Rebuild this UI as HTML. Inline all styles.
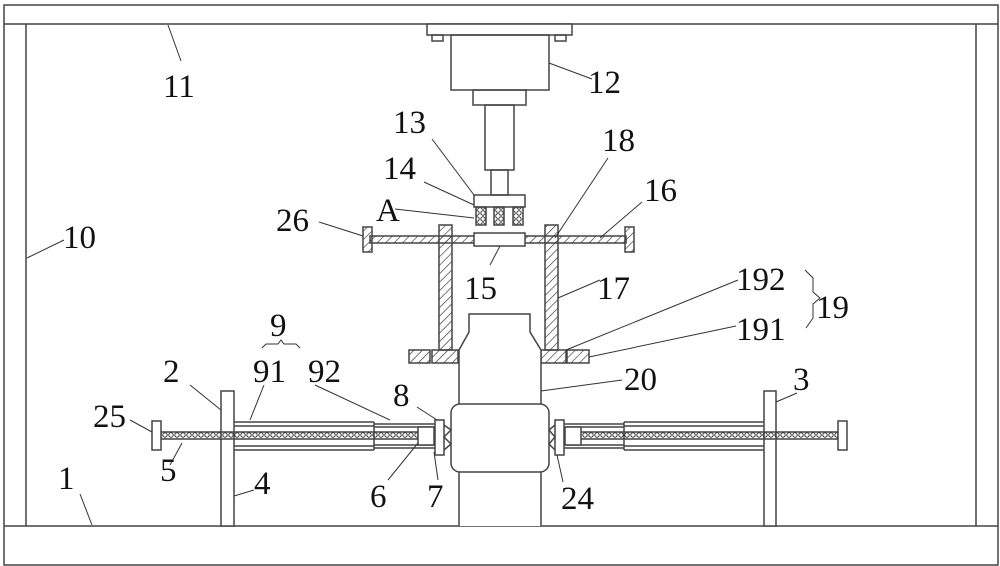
<!DOCTYPE html>
<html><head><meta charset="utf-8"><style>
html,body{margin:0;padding:0;background:#fff;}
svg{display:block;}
text{font-family:"Liberation Serif",serif;font-size:33px;fill:#111;}
</style></head><body>
<svg width="1000" height="566" viewBox="0 0 1000 566" xmlns="http://www.w3.org/2000/svg">
<defs>
<pattern id="h" width="6" height="6" patternUnits="userSpaceOnUse" patternTransform="rotate(45)">
<line x1="0" y1="0" x2="0" y2="6" stroke="#333" stroke-width="1.3"/>
</pattern>
<pattern id="s" width="6" height="6" patternUnits="userSpaceOnUse">
<circle cx="3" cy="3" r="2.2" fill="none" stroke="#333" stroke-width="1"/>
</pattern>
</defs>
<g fill="none" stroke="#444" stroke-width="1.5">
<rect x="4" y="5" width="994" height="560"/>
<line x1="4" y1="24" x2="998" y2="24"/>
<line x1="26" y1="24" x2="26" y2="526"/>
<line x1="976" y1="24" x2="976" y2="526"/>
<line x1="4" y1="526" x2="998" y2="526"/>
<rect x="427" y="24" width="145" height="11" fill="#fff"/>
<rect x="432" y="35" width="11" height="6"/>
<rect x="555" y="35" width="11" height="6"/>
<rect x="451" y="35" width="98" height="55"/>
<rect x="473" y="90" width="53" height="15"/>
<rect x="485" y="105" width="29" height="65"/>
<rect x="491" y="170" width="17" height="25"/>
<rect x="474" y="195" width="51" height="12"/>
<rect x="476" y="207" width="10" height="18" fill="url(#s)"/>
<rect x="494" y="207" width="10" height="18" fill="url(#s)"/>
<rect x="513" y="207" width="10" height="18" fill="url(#s)"/>
<rect x="370" y="236" width="256" height="7" fill="url(#h)"/>
<rect x="363" y="227" width="9" height="25" fill="url(#h)"/>
<rect x="625" y="227" width="9" height="25" fill="url(#h)"/>
<rect x="474" y="233" width="51" height="13" fill="#fff"/>
<rect x="439" y="225" width="13" height="125" fill="url(#h)"/>
<rect x="545" y="225" width="13" height="125" fill="url(#h)"/>
<rect x="409" y="350" width="21" height="13" fill="url(#h)"/>
<rect x="432" y="350" width="26" height="13" fill="url(#h)"/>
<rect x="541" y="350" width="25" height="13" fill="url(#h)"/>
<rect x="567" y="350" width="22" height="13" fill="url(#h)"/>
<path d="M459 526 V350 L469 332 V314 H530 V332 L541 350 V526" fill="#fff"/>
<rect x="451" y="404" width="98" height="68" rx="9" fill="#fff"/>
<rect x="221" y="391" width="13" height="135" fill="#fff"/>
<rect x="764" y="391" width="12" height="135" fill="#fff"/>
<rect x="161" y="432" width="257" height="7" fill="url(#s)"/>
<rect x="580" y="432" width="258" height="7" fill="url(#s)"/>
<rect x="152" y="421" width="9" height="29" fill="#fff"/>
<rect x="838" y="421" width="9" height="29" fill="#fff"/>
<line x1="234" y1="422" x2="374" y2="422"/><line x1="234" y1="426" x2="374" y2="426"/>
<line x1="234" y1="446" x2="374" y2="446"/><line x1="234" y1="450" x2="374" y2="450"/>
<line x1="374" y1="422" x2="374" y2="450"/>
<line x1="374" y1="424" x2="435" y2="424"/><line x1="374" y1="427" x2="435" y2="427"/>
<line x1="374" y1="445" x2="435" y2="445"/><line x1="374" y1="448" x2="435" y2="448"/>
<line x1="624" y1="422" x2="764" y2="422"/><line x1="624" y1="426" x2="764" y2="426"/>
<line x1="624" y1="446" x2="764" y2="446"/><line x1="624" y1="450" x2="764" y2="450"/>
<line x1="624" y1="422" x2="624" y2="450"/>
<line x1="564" y1="424" x2="624" y2="424"/><line x1="564" y1="427" x2="624" y2="427"/>
<line x1="564" y1="445" x2="624" y2="445"/><line x1="564" y1="448" x2="624" y2="448"/>
<rect x="418" y="427" width="16" height="18" fill="#fff"/>
<rect x="435" y="420" width="9" height="35" fill="#fff"/>
<path d="M444 425 L451 430 L444 437 L451 444 L444 450"/>
<rect x="565" y="427" width="16" height="18" fill="#fff"/>
<rect x="555" y="420" width="9" height="35" fill="#fff"/>
<path d="M555 425 L549 430 L555 437 L549 444 L555 450"/>
</g>
<g stroke="#333" stroke-width="1" fill="none">
<line x1="168" y1="25" x2="181" y2="61"/>
<line x1="27" y1="258" x2="64" y2="240"/>
<line x1="549" y1="63" x2="592" y2="79"/>
<line x1="432" y1="139" x2="474" y2="195"/>
<line x1="424" y1="182" x2="474" y2="205"/>
<line x1="395" y1="209" x2="474" y2="218"/>
<line x1="319" y1="222" x2="363" y2="236"/>
<line x1="608" y1="158" x2="555" y2="238"/>
<line x1="642" y1="202" x2="600" y2="238"/>
<line x1="500" y1="246" x2="490" y2="265"/>
<line x1="600" y1="280" x2="558" y2="298"/>
<line x1="738" y1="280" x2="566" y2="350"/>
<line x1="736" y1="326" x2="589" y2="357"/>
<path d="M805 270 L813 278 L813 292 L820 298 L813 304 L813 318 L806 328"/>
<path d="M262 348 L266 344 L278 344 L281 340 L284 344 L296 344 L300 348"/>
<line x1="264" y1="385" x2="250" y2="420"/>
<line x1="315" y1="385" x2="390" y2="420"/>
<line x1="190" y1="385" x2="221" y2="410"/>
<line x1="622" y1="380" x2="541" y2="391"/>
<line x1="797" y1="393" x2="776" y2="402"/>
<line x1="417" y1="407" x2="437" y2="420"/>
<line x1="130" y1="420" x2="152" y2="432"/>
<line x1="170" y1="465" x2="182" y2="443"/>
<line x1="254" y1="490" x2="234" y2="496"/>
<line x1="388" y1="480" x2="418" y2="443"/>
<line x1="438" y1="480" x2="434" y2="452"/>
<line x1="563" y1="482" x2="557" y2="455"/>
<line x1="80" y1="494" x2="92" y2="525"/>
</g>
<g>
<text x="163" y="97">11</text>
<text x="588" y="93">12</text>
<text x="393" y="133">13</text>
<text x="602" y="151">18</text>
<text x="383" y="179">14</text>
<text x="644" y="201">16</text>
<text x="376" y="221">A</text>
<text x="276" y="231">26</text>
<text x="63" y="248">10</text>
<text x="464" y="299">15</text>
<text x="597" y="299">17</text>
<text x="736" y="290">192</text>
<text x="816" y="318">19</text>
<text x="736" y="340">191</text>
<text x="270" y="336">9</text>
<text x="253" y="382">91</text>
<text x="308" y="382">92</text>
<text x="163" y="382">2</text>
<text x="624" y="390">20</text>
<text x="793" y="390">3</text>
<text x="393" y="406">8</text>
<text x="93" y="427">25</text>
<text x="160" y="481">5</text>
<text x="254" y="494">4</text>
<text x="370" y="507">6</text>
<text x="427" y="507">7</text>
<text x="561" y="509">24</text>
<text x="58" y="489">1</text>
</g>
</svg>
</body></html>
